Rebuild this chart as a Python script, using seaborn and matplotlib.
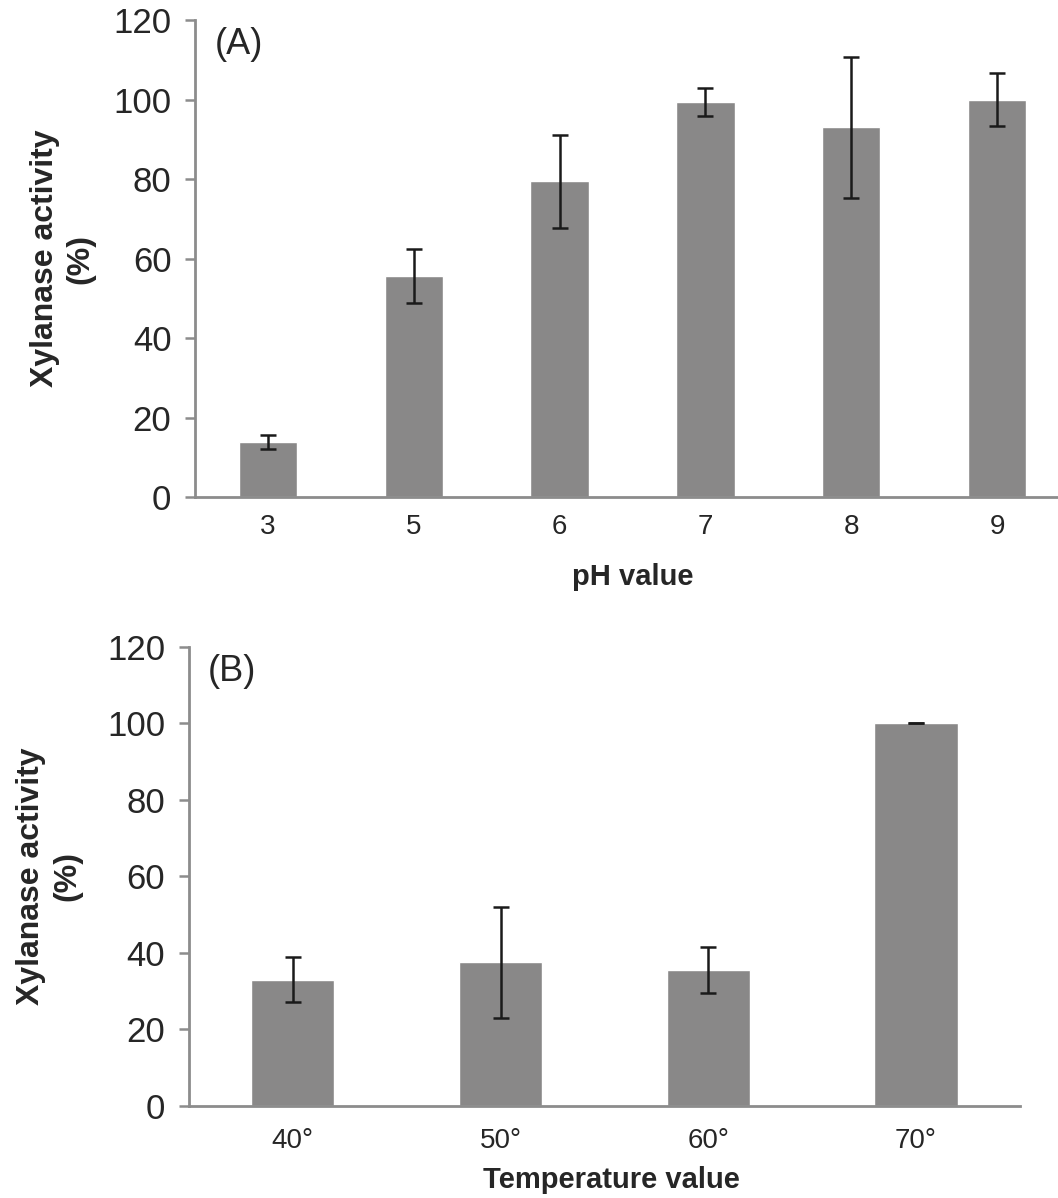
import pandas as pd
import matplotlib
matplotlib.use("Agg")
import matplotlib.pyplot as plt
import seaborn as sns

# pH data (panel A)
ph_labels = ["3", "5", "6", "7", "8", "9"]
ph_activity = [13.9, 55.6, 79.4, 99.4, 93.0, 100.0]
ph_error = [1.7, 6.8, 11.7, 3.6, 17.8, 6.6]

# temperature data (panel B)
temp_labels = ["40°", "50°", "60°", "70°"]
temp_activity = [33.0, 37.5, 35.6, 100.0]
temp_error = [5.8, 14.4, 6.0, 0.0]

sns.set_theme(style="white")
plt.rcParams["font.family"] = ["Liberation Sans", "DejaVu Sans"]

bar_color = "#898888"
axis_color = "#8c8c8c"

fig = plt.figure(figsize=(10.58, 11.98), dpi=100)
ax_a = fig.add_axes([0.1843, 0.5849, 0.827, 0.3984])
ax_b = fig.add_axes([0.1786, 0.0768, 0.7854, 0.3834])


def draw_panel(ax, labels, values, errors, xlabel, tag, xpad, xlab_pos, ylab_x):
    df = pd.DataFrame({"x": labels, "y": values})
    sns.barplot(data=df, x="x", y="y", color=bar_color, saturation=1,
                width=0.4, errorbar=None, ax=ax)
    ax.errorbar(range(len(labels)), values, yerr=errors, fmt="none",
                ecolor="#1a1a1a", elinewidth=1.8, capsize=5.5, capthick=1.8)
    ax.set_xlim(-0.5, len(labels) - 0.5)
    ax.set_ylim(0, 120)
    ax.set_yticks(range(0, 121, 20))
    sns.despine(ax=ax)
    for side in ["left", "bottom"]:
        ax.spines[side].set_color(axis_color)
        ax.spines[side].set_linewidth(2)
    ax.tick_params(axis="y", direction="out", length=7, width=1.8,
                   color=axis_color, labelsize=25, pad=10, left=True)
    ax.tick_params(axis="x", length=0, labelsize=20, pad=xpad)
    ax.set_xlabel(xlabel, fontsize=21, fontweight="bold", va="center")
    ax.xaxis.set_label_coords(*xlab_pos)
    ax.set_ylabel("Xylanase activity\n(%)", fontsize=23, fontweight="bold",
                  linespacing=1.25, va="center")
    ax.yaxis.set_label_coords(ylab_x, 0.5)
    ax.text(0.023, 0.985, tag, transform=ax.transAxes, fontsize=26,
            va="top", ha="left")


draw_panel(ax_a, ph_labels, ph_activity, ph_error, "pH value", "(A)",
           xpad=12, xlab_pos=(0.5, -0.167), ylab_x=-0.151)
draw_panel(ax_b, temp_labels, temp_activity, temp_error, "Temperature value", "(B)",
           xpad=16, xlab_pos=(0.509, -0.161), ylab_x=-0.168)

fig.savefig("out.png", dpi=100)
